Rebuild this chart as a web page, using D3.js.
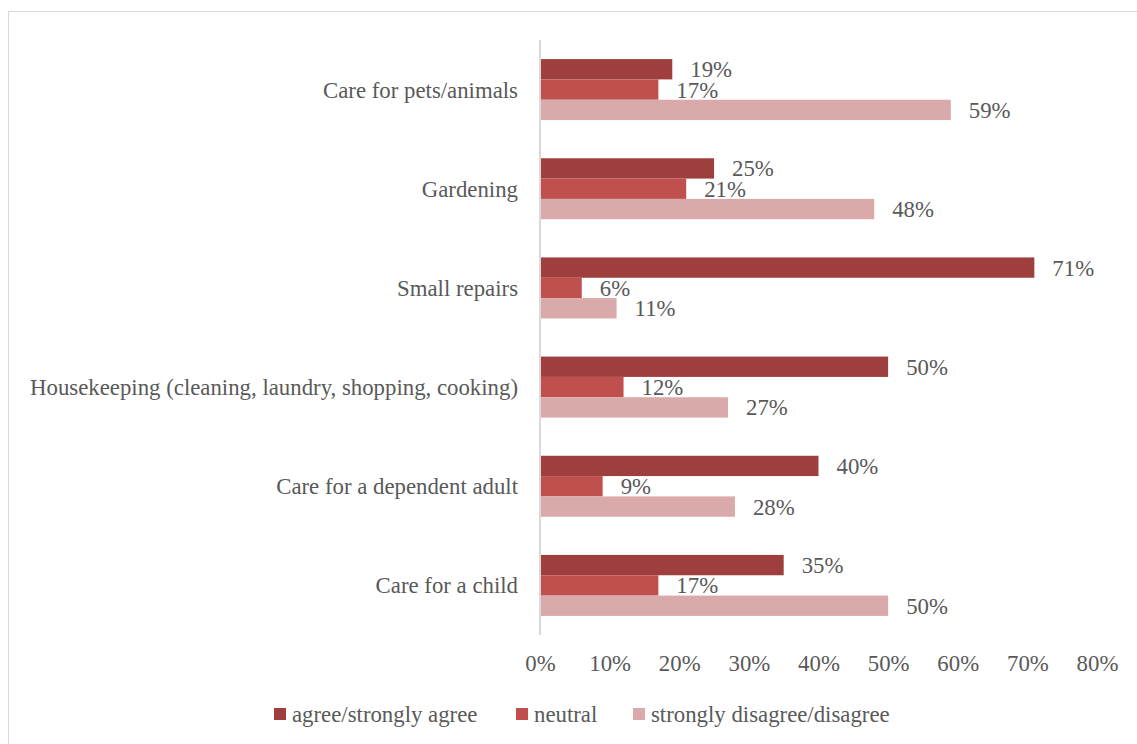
<!DOCTYPE html>
<html>
<head>
<meta charset="utf-8">
<script src="https://cdn.jsdelivr.net/npm/d3@7"></script>
<style>
  html, body { margin: 0; padding: 0; background: #fff; }
  svg { display: block; }
  text { font-family: "Liberation Serif", "DejaVu Serif", serif; fill: #595959; }
</style>
</head>
<body>
<svg id="chart" width="1137" height="744"></svg>
<script>
// Survey answers per household task (percent of respondents)
const categories = [
  "Care for pets/animals",
  "Gardening",
  "Small repairs",
  "Housekeeping (cleaning, laundry, shopping, cooking)",
  "Care for a dependent adult",
  "Care for a child"
];
const seriesNames = ["agree/strongly agree", "neutral", "strongly disagree/disagree"];
const agreeValues = [19, 25, 71, 50, 40, 35];
const neutralValues = [17, 21, 6, 12, 9, 17];
const disagreeValues = [59, 48, 11, 27, 28, 50];
const tickValues = [0, 10, 20, 30, 40, 50, 60, 70, 80];

const seriesValues = [agreeValues, neutralValues, disagreeValues];
const colors = ["#9e3f3e", "#c0504d", "#daa9a9"];
const fontSize = 22.8;

const svg = d3.select("#chart");

// outer frame
svg.append("rect")
  .attr("x", 8.5).attr("y", 11.5)
  .attr("width", 1140).attr("height", 740)
  .attr("fill", "none").attr("stroke", "#d9d9d9").attr("stroke-width", 1);

const x = d3.scaleLinear().domain([0, 80]).range([540, 1097]);
const y0 = d3.scaleBand().domain(categories).range([40, 635])
  .paddingInner(0.385).paddingOuter(0.1925);
const y1 = d3.scaleBand().domain(seriesNames).range([0, y0.bandwidth()]);

// bars
const groups = svg.append("g").selectAll("g")
  .data(categories)
  .join("g")
  .attr("transform", d => `translate(0,${y0(d)})`);

groups.each(function(cat, ci) {
  const g = d3.select(this);
  const rows = seriesNames.map((s, si) => ({ s, si, v: seriesValues[si][ci] }));
  g.selectAll("rect").data(rows).join("rect")
    .attr("x", x(0))
    .attr("y", d => y1(d.s))
    .attr("width", d => x(d.v) - x(0))
    .attr("height", y1.bandwidth())
    .attr("fill", d => colors[d.si]);
  g.selectAll("text.val").data(rows).join("text")
    .attr("class", "val")
    .attr("x", d => x(d.v) + 18)
    .attr("y", d => y1(d.s) + y1.bandwidth() / 2)
    .attr("dy", "0.35em")
    .attr("font-size", fontSize)
    .text(d => d.v + "%");
});

// vertical axis line
svg.append("line")
  .attr("x1", x(0)).attr("x2", x(0))
  .attr("y1", 40).attr("y2", 635)
  .attr("stroke", "#d9d9d9").attr("stroke-width", 2);

// category labels
svg.append("g").selectAll("text")
  .data(categories)
  .join("text")
  .attr("x", 518)
  .attr("y", d => y0(d) + y0.bandwidth() / 2)
  .attr("dy", "0.35em")
  .attr("text-anchor", "end")
  .attr("font-size", fontSize)
  .text(d => d);

// x axis tick labels
const xAxis = d3.axisBottom(x)
  .tickValues(tickValues)
  .tickFormat(d => d + "%")
  .tickSize(0)
  .tickPadding(0);
const axG = svg.append("g").attr("transform", "translate(0,655)").call(xAxis);
axG.select(".domain").remove();
axG.selectAll("text")
  .attr("font-size", fontSize)
  .attr("font-family", "Liberation Serif, DejaVu Serif, serif")
  .attr("fill", "#595959");

// legend
const legendX = [274, 516, 633];
const legend = svg.append("g").selectAll("g")
  .data(seriesNames)
  .join("g")
  .attr("transform", (d, i) => `translate(${legendX[i]},708)`);
legend.append("rect")
  .attr("width", 12).attr("height", 12)
  .attr("fill", (d, i) => colors[i]);
legend.append("text")
  .attr("x", 18).attr("y", 6)
  .attr("dy", "0.35em")
  .attr("font-size", fontSize)
  .text(d => d);
</script>
</body>
</html>
